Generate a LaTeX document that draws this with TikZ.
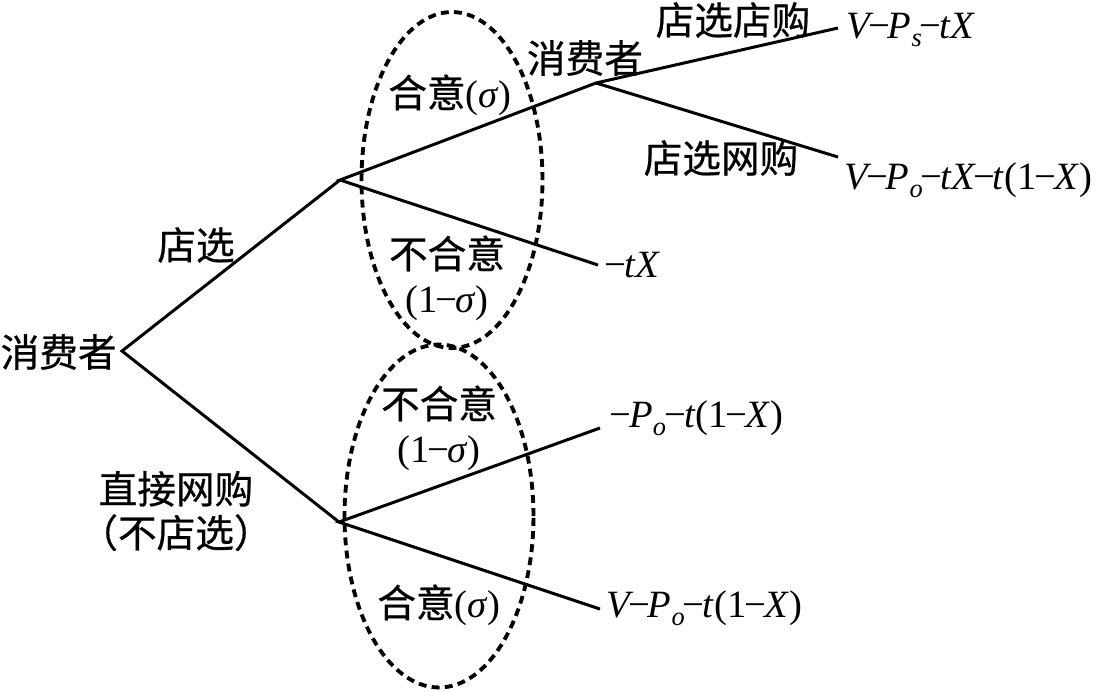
\documentclass[tikz,border=0pt]{standalone}
\usepackage{fontspec}
\setmainfont{Liberation Serif}
\newfontfamily\cjk{Noto Sans CJK SC}[FakeBold=0.6]
\usetikzlibrary{positioning, shapes.geometric}
\newcommand{\lowsub}[1]{\raisebox{-0.45ex}{\fontsize{15}{15}\selectfont #1}}
\newcommand{\mn}{\kern-0.05em\textup{−}\kern-0.05em}

\begin{document}
\begin{tikzpicture}[x=0.02cm, y=-0.02cm,
                branch/.style={line width=1.7pt},
                infoset/.style={ellipse, draw, line width=2.2pt, dash pattern=on 4.5pt off 3pt, minimum width=#1},
                cjklab/.style={font=\cjk\fontsize{22}{25}\selectfont, inner sep=1pt, align=center},
                payoff/.style={font=\fontsize{22}{26}\selectfont\itshape, inner sep=0pt, anchor=west}
            ]
                \useasboundingbox (0,0) rectangle (1102,691);

                % information sets
                \node[infoset=3.62cm, minimum height=6.72cm] (upset) at (452,180) {};
                \node[infoset=3.78cm, minimum height=6.86cm] (lowset) at (439,516) {};

                % decision points and branch ends
                \coordinate (root) at (122,351);
                \coordinate (shop) at (340,180);
                \coordinate (online) at (339,522);
                \coordinate (buyer) at (596,83);
                \coordinate (e1) at (838,28);
                \coordinate (e2) at (838,157);
                \coordinate (e3) at (598,265);
                \coordinate (e4) at (600,428);
                \coordinate (e5) at (600,609);

                \draw[branch] (shop) -- (root) -- (online);
                \draw[branch] (e3) -- (shop) -- (buyer) -- (e1);
                \draw[branch] (buyer) -- (e2);
                \draw[branch] (e4) -- (online) -- (e5);

                % labels
                \node[cjklab, anchor=east, inner sep=0pt] (rootlab) at (117,352) {消费者};
                \node[cjklab] (l1) at (196,245) {店选};
                \node[cjklab] (l2) at (176,511) {直接网购\\（不店选）};
                \node[cjklab] (l3) at (450,95) {合意{\rmfamily(\textit{σ})}};
                \node[cjklab] (l4) at (447,278) {不合意\\{\rmfamily(1\mn\textit{σ})}};
                \node[cjklab] (buyerlab) at (585,58) {消费者};
                \node[cjklab] (l5) at (733,20) {店选店购};
                \node[cjklab] (l6) at (721,158) {店选网购};
                \node[cjklab] (l7) at (439,428) {不合意\\{\rmfamily(1\mn\textit{σ})}};
                \node[cjklab] (l8) at (439,605) {合意{\rmfamily(\textit{σ})}};

                % payoffs
                \node[payoff] (p1) at (846,30) {V\mn P\lowsub{s}\mn tX};
                \node[payoff] (p2) at (844,180) {V\mn P\lowsub{o}\mn tX\mn t\textup{(1\mn}X\textup{)}};
                \node[payoff] (p3) at (606,265) {\mn tX};
                \node[payoff] (p4) at (611,418) {\mn P\lowsub{o}\mn t\textup{(1\mn}X\textup{)}};
                \node[payoff] (p5) at (606,608) {V\mn P\lowsub{o}\mn t\textup{(1\mn}X\textup{)}};
            \end{tikzpicture}
\end{document}
